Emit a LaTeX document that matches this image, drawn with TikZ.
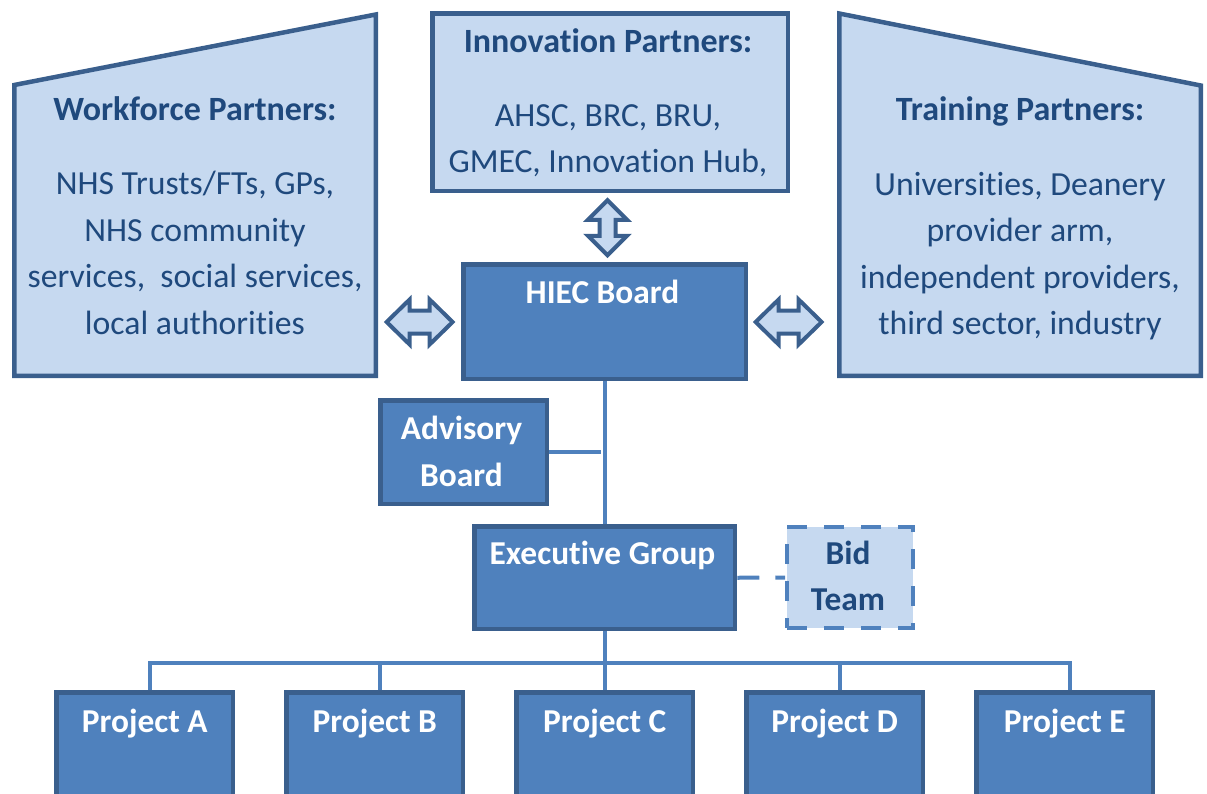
\documentclass[tikz,border=0pt]{standalone}
\usepackage{fontspec}
\setmainfont{Carlito}[Ligatures=NoCommon]
\usetikzlibrary{calc}

\definecolor{edgeblue}{HTML}{3A5F8D}
\definecolor{midblue}{HTML}{4F81BD}
\definecolor{paleblue}{HTML}{C6D9F0}
\definecolor{inkblue}{HTML}{1F497D}

\tikzset{
  partnershape/.style={draw=edgeblue, fill=paleblue, line width=4.5pt, line join=miter},
  darkbox/.style={draw=edgeblue, fill=midblue, line width=4.5pt, rectangle, inner sep=0pt, anchor=north west},
  dashbox/.style={draw=midblue, fill=paleblue, line width=4pt, rectangle, inner sep=0pt, anchor=north west,
                  dash pattern=on 20pt off 17pt},
  arrowshape/.style={draw=edgeblue, fill=paleblue, line width=4pt, line join=miter},
  link/.style={draw=midblue, line width=4pt},
  dashlink/.style={draw=midblue, line width=4pt, dash pattern=on 22pt off 16pt},
  headtext/.style={anchor=base, text=inkblue, inner sep=0pt, font=\fontsize{34}{40}\selectfont\bfseries},
  bodytext/.style={anchor=base, text=inkblue, inner sep=0pt, font=\fontsize{33.7}{40}\selectfont},
  boxtext/.style={anchor=base, text=white, inner sep=0pt, font=\fontsize{33.4}{40}\selectfont\bfseries},
  bidtext/.style={anchor=base, text=inkblue, inner sep=0pt, font=\fontsize{33.4}{40}\selectfont\bfseries},
}

% double-headed block arrow: centre, angle, half length, head length, head half width, shaft half width
\newcommand\blockarrow[6]{%
  \draw[arrowshape, shift={(#1)}, rotate=#2]
    (-#3,0) -- ({-#3+#4},#5) -- ({-#3+#4},#6) -- ({#3-#4},#6) -- ({#3-#4},#5) -- (#3,0)
    -- ({#3-#4},-#5) -- ({#3-#4},-#6) -- ({-#3+#4},-#6) -- ({-#3+#4},-#5) -- cycle;}

\begin{document}
\begin{tikzpicture}[x=1pt, y=-1pt]
\useasboundingbox (0,0) rectangle (1207,793);
\clip (0,0) rectangle (1207,793);

% ---- partner groups ----
\draw[partnershape] (14.25,375.75) -- (14.25,85) -- (375.75,14.5) -- (375.75,375.75) -- cycle;
\coordinate (wfE) at (378,322);
\node[darkbox, fill=paleblue, minimum width=355.5pt, minimum height=177.5pt] (innov) at (430.25,11.25) {};
\draw[partnershape] (839.25,375.75) -- (839.25,13.5) -- (1200.75,85.5) -- (1200.75,375.75) -- cycle;
\coordinate (trW) at (837,322);

\node[headtext] (wfhead) at (195,120) {Workforce Partners:};
\node[bodytext] (wf1) at (195,194.5) {NHS Trusts/FTs, GPs,};
\node[bodytext] (wf2) at (195,241) {NHS community};
\node[bodytext] (wf3) at (195,287.5) {services,\ \ social services,};
\node[bodytext] (wf4) at (195,334) {local authorities};

\node[headtext] (inhead) at (608,52) {Innovation Partners:};
\node[bodytext] (in1) at (608,126) {AHSC, BRC, BRU,};
\node[bodytext] (in2) at (608,172) {GMEC, Innovation Hub,};

\node[headtext] (trhead) at (1020,120) {Training Partners:};
\node[bodytext] (tr1) at (1020,195) {Universities, Deanery};
\node[bodytext] (tr2) at (1020,241.5) {provider arm,};
\node[bodytext] (tr3) at (1020,288) {independent providers,};
\node[bodytext] (tr4) at (1020,334.5) {third sector, industry};

% ---- governance ----
\node[darkbox, minimum width=282.5pt, minimum height=114.5pt] (hiec) at (461.25,262.25) {};
\node[boxtext] (hiect) at (602.5,303) {HIEC Board};

\node[darkbox, minimum width=166.5pt, minimum height=103.5pt] (adv) at (378.25,398.25) {};
\node[boxtext] (advt1) at (461.5,439) {Advisory};
\node[boxtext] (advt2) at (461.5,486) {Board};

\node[darkbox, minimum width=260.5pt, minimum height=102.5pt] (exec) at (472.25,524.25) {};
\node[boxtext] (exect) at (602.5,564) {Executive Group};

\node[dashbox, minimum width=126pt, minimum height=101pt] (bid) at (785,525) {};
\node[bidtext] (bidt1) at (848,564) {Bid};
\node[bidtext] (bidt2) at (848,610) {Team};

% ---- projects ----
\foreach \nm/\lx/\lab in {pa/54.25/A, pb/284.25/B, pc/514.25/C, pd/744.25/D, pe/974.25/E}{
  \node[darkbox, minimum width=176.5pt, minimum height=160pt] (\nm) at (\lx,690.25) {};
  \node[boxtext] (\nm t) at ($(\nm.north)+(0,42)$) {Project \lab};
}

% ---- block arrows between partners and the board ----
\blockarrow{$(wfE)!0.5!(hiec.west |- wfE)$}{0}{33}{23}{22.5}{11.5}
\blockarrow{$(hiec.east |- trW)!0.5!(trW)+(-4,0)$}{0}{33}{23}{22.5}{11.5}
\blockarrow{$(innov.south)!0.5!(hiec.north)$}{90}{27.5}{19.5}{19.5}{8}

% ---- reporting lines ----
\draw[link] (hiec.south) -- (exec.north);
\draw[link] (adv.east) -- ++(52,0) coordinate (advend);
\draw[dashlink] (exec.east) -- (bid.west);
\draw[link] (exec.south) -- ++(0,32) coordinate (bus);
\draw[link] ([xshift=5pt]pa.north) |- (bus) -| ([xshift=5pt]pe.north);
\draw[link] ([xshift=5pt]pb.north) -- ([xshift=5pt]pb.north |- bus);
\draw[link] (pc.north) -- (bus);
\draw[link] ([xshift=5pt]pd.north) -- ([xshift=5pt]pd.north |- bus);
\end{tikzpicture}
\end{document}
